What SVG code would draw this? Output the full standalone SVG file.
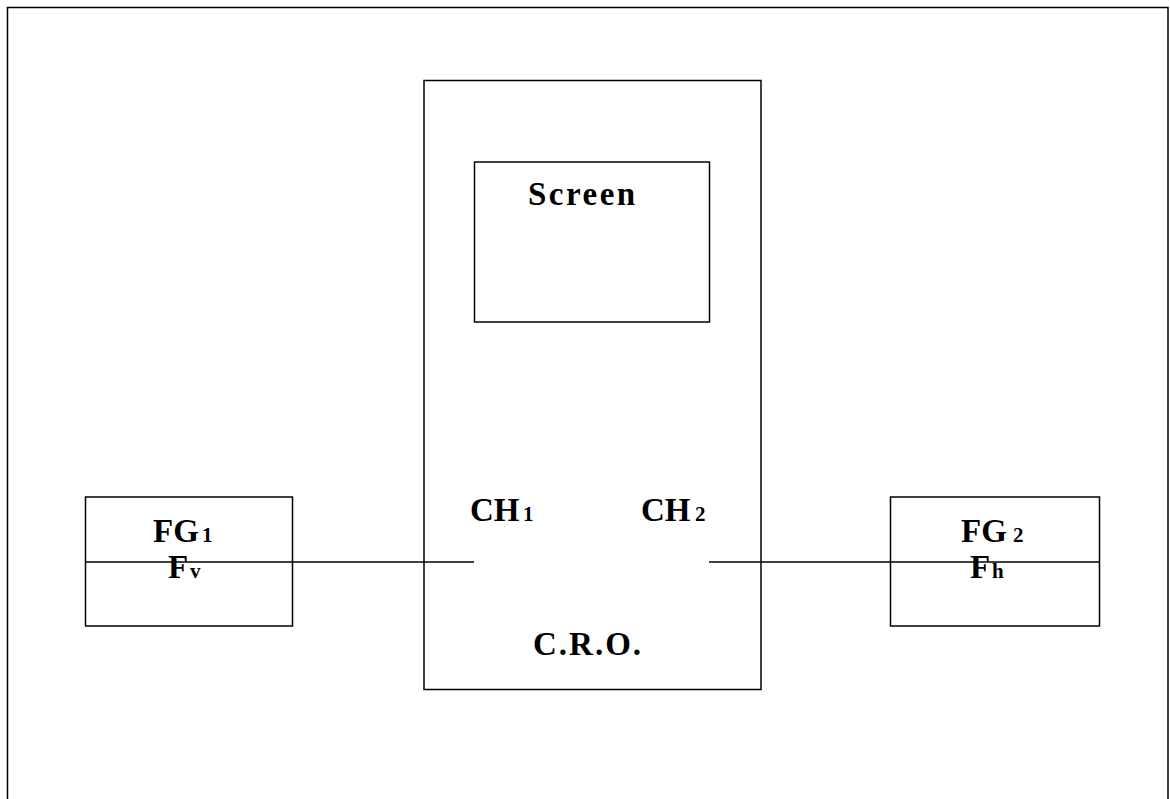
<svg xmlns="http://www.w3.org/2000/svg" width="1170" height="799" viewBox="0 0 1170 799">
<style>
.box{fill:none;stroke:#000;stroke-width:1.5}
.wire{fill:none;stroke:#000;stroke-width:1.5}
.t{font-family:"Liberation Serif","Times New Roman",serif;font-weight:bold;font-size:33px;fill:#000}
.s{font-size:21px}
</style>
<rect width="1170" height="799" fill="#fff"/>
<path class="box" d="M7.5,799 V7.5 H1168 V799"/>
<g id="cro">
<rect class="box" x="424" y="80.5" width="337" height="609"/>
<text class="t" x="533" y="655" letter-spacing="2">C.R.O.</text>
<text class="t" x="470" y="521">CH<tspan class="s" x="523">1</tspan></text>
<text class="t" x="641" y="521">CH<tspan class="s" x="695">2</tspan></text>
</g>
<g id="screen">
<rect class="box" x="474.5" y="162" width="235" height="160"/>
<text class="t" x="528" y="205" font-size="32" letter-spacing="2.5">Screen</text>
</g>
<g id="fg1">
<rect class="box" x="85.5" y="497" width="207" height="129"/>
<text class="t" x="153" y="542">FG<tspan class="s" x="202">1</tspan></text>
<text class="t" x="168" y="578">F<tspan class="s" x="190">v</tspan></text>
</g>
<g id="fg2">
<rect class="box" x="890.5" y="497" width="209" height="129"/>
<text class="t" x="961" y="542">FG<tspan class="s" x="1013">2</tspan></text>
<text class="t" x="970" y="578">F<tspan class="s" x="992">h</tspan></text>
</g>
<g id="connectors">
<line class="wire" x1="85" y1="562" x2="474" y2="562"/>
<line class="wire" x1="709" y1="562" x2="1099" y2="562"/>
</g>
</svg>
